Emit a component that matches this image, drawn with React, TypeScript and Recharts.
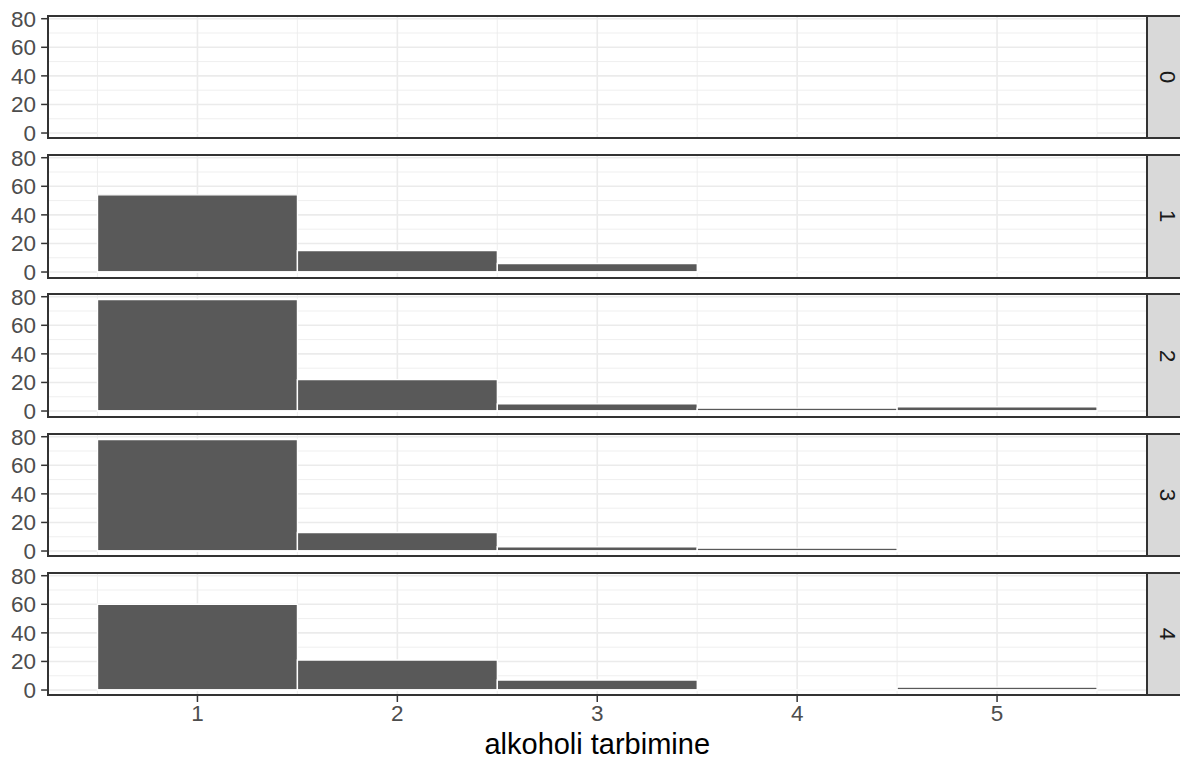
import { BarChart, Bar, XAxis, YAxis, CartesianGrid, ReferenceLine } from "recharts";

// histogram bins (alkoholi tarbimine) and counts per facet
const bins = [1, 2, 3, 4, 5];
const facetLabels = ["0", "1", "2", "3", "4"];
const counts0 = [0, 0, 0, 0, 0];
const counts1 = [54, 15, 6, 0, 0];
const counts2 = [78, 22, 5, 2, 3];
const counts3 = [78, 13, 3, 2, 0];
const counts4 = [60, 21, 7, 0, 2];
const facetCounts = [counts0, counts1, counts2, counts3, counts4];

const yTicks = [0, 20, 40, 60, 80];
const yMinor = [10, 30, 50, 70];
const xTicks = [1, 2, 3, 4, 5];
const xMinor = [0.5, 1.5, 2.5, 3.5, 4.5, 5.5];
const yMax = 78;

// layout (px)
const PANEL_LEFT = 47.5;
const PANEL_RIGHT = 1147;
const PANEL_H = 122.6;
const STEP = 139.3;
const FIRST_TOP = 15.7;
const PAD = 14;
const X_AXIS_H = 66;
const TICK_FONT = 22.5;

const FONT = "'Liberation Sans', Arial, Helvetica, sans-serif";
const yDomain = [-0.05 * yMax, 1.05 * yMax];
const xDomain = [bins[0] - 0.75, bins[bins.length - 1] + 0.75];

const Panel = ({ counts, label, index, last }: { counts: number[]; label: string; index: number; last: boolean }) => {
  const data = bins.map((b, i) => ({ bin: b, count: counts[i] }));
  const panelTop = FIRST_TOP + index * STEP;
  const bottom = last ? 0 : 8;
  const height = PAD + PANEL_H + (last ? X_AXIS_H : bottom);
  return (
    <>
      <div style={{ position: "absolute", left: 0, top: panelTop - PAD }}>
        <BarChart
          width={PANEL_RIGHT}
          height={height}
          data={data}
          margin={{ top: PAD, right: 0, bottom, left: 0 }}
          barCategoryGap={0}
          barGap={0}
        >
          <CartesianGrid stroke="#EBEBEB" strokeWidth={0.8} horizontalValues={yMinor} verticalValues={xMinor} />
          <CartesianGrid stroke="#EBEBEB" strokeWidth={1.6} horizontalValues={yTicks} verticalValues={xTicks} />
          <XAxis
            dataKey="bin"
            type="number"
            domain={xDomain}
            ticks={xTicks}
            interval={0}
            allowDataOverflow
            hide={!last}
            height={X_AXIS_H}
            axisLine={false}
            tickSize={6.4}
            tickMargin={3}
            tickLine={{ stroke: "#333333", strokeWidth: 1.5 }}
            tick={{ fill: "#4D4D4D", fontSize: TICK_FONT }}
            label={{ value: "alkoholi tarbimine", position: "insideBottom", offset: 8, fill: "#000000", fontSize: 29 }}
          />
          <YAxis
            type="number"
            domain={yDomain}
            ticks={yTicks}
            interval={0}
            allowDataOverflow
            width={PANEL_LEFT}
            axisLine={false}
            tickSize={6.4}
            tickMargin={5}
            tickLine={{ stroke: "#333333", strokeWidth: 1.5 }}
            tick={{ fill: "#4D4D4D", fontSize: TICK_FONT }}
          />
          <Bar dataKey="count" fill="#595959" stroke="#FFFFFF" strokeWidth={1.4} isAnimationActive={false} />
          <ReferenceLine
            segment={[
              { x: bins[0] - 0.5, y: 0 },
              { x: bins[bins.length - 1] + 0.5, y: 0 },
            ]}
            stroke="#FFFFFF"
            strokeWidth={1.6}
          />
        </BarChart>
      </div>
      <div
        style={{
          position: "absolute",
          left: PANEL_LEFT - 1,
          top: panelTop - 1,
          width: PANEL_RIGHT - PANEL_LEFT + 2,
          height: PANEL_H + 2,
          border: "2px solid #333333",
          boxSizing: "border-box",
          pointerEvents: "none",
        }}
      />
      <div
        style={{
          position: "absolute",
          left: PANEL_RIGHT - 1,
          top: panelTop - 1,
          width: 50,
          height: PANEL_H + 2,
          background: "#D9D9D9",
          border: "2px solid #333333",
          boxSizing: "border-box",
        }}
      >
        <span
          style={{
            position: "absolute",
            left: 19,
            top: "50%",
            transform: "translate(-50%, -50%) rotate(90deg)",
            fontSize: TICK_FONT,
            lineHeight: 1,
            color: "#1A1A1A",
            fontFamily: FONT,
          }}
        >
          {label}
        </span>
      </div>
    </>
  );
};

export default function App() {
  return (
    <div
      style={{
        position: "absolute",
        left: 0,
        top: 0,
        width: 1180,
        height: 761,
        background: "#FFFFFF",
        overflow: "hidden",
        fontFamily: FONT,
      }}
    >
      {facetCounts.map((c, i) => (
        <Panel key={facetLabels[i]} counts={c} label={facetLabels[i]} index={i} last={i === facetCounts.length - 1} />
      ))}
    </div>
  );
}
